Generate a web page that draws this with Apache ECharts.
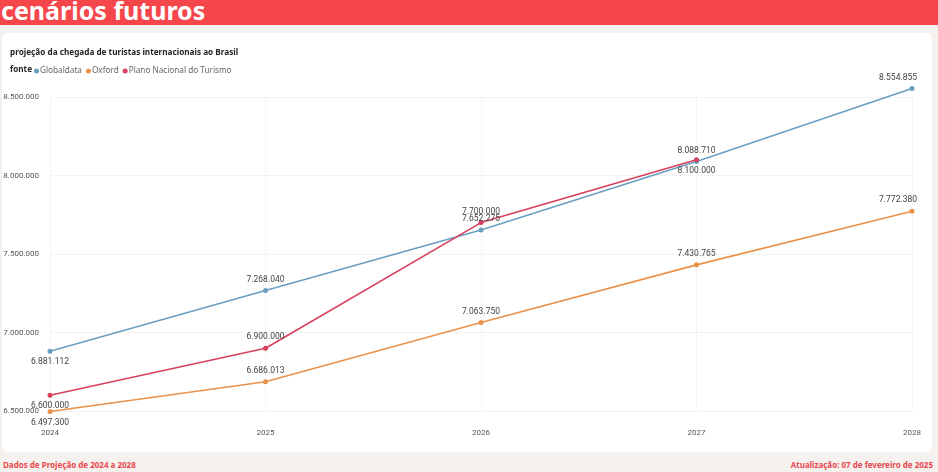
<!DOCTYPE html>
<html>
<head>
<meta charset="utf-8">
<script src="https://cdn.jsdelivr.net/npm/echarts@6/dist/echarts.min.js"></script>
<style>
  html, body { margin: 0; padding: 0; }
  body { width: 938px; height: 472px; background: #f5f1ee; position: relative; overflow: hidden; font-family: "Noto Sans", sans-serif; }
  #header { position: absolute; left: 0; top: 0; width: 938px; height: 25px; background: #f5474b; }
  #header span { position: absolute; left: 1px; top: -7px; color: #fff; font-weight: 700; font-size: 25px; }
  #card { position: absolute; left: 2px; top: 33px; width: 930px; height: 419px; background: #fff; border-radius: 6px; }
  .foot { position: absolute; top: 459px; font-size: 8px; font-weight: 700; color: #e8484f; }
  #chart { position: absolute; left: 0; top: 0; width: 938px; height: 472px; }
</style>
</head>
<body>
<div id="header"><span>cenários futuros</span></div>
<div id="card"></div>
<div class="foot" style="left:3px">Dados de Projeção de 2024 a 2028</div>
<div class="foot" style="right:5px">Atualização: 07 de fevereiro de 2025</div>
<div id="chart"></div>
<script>
  var years = ['2024', '2025', '2026', '2027', '2028'];
  var globaldata = [6881112, 7268040, 7652275, 8088710, 8554855];
  var oxford = [6497300, 6686013, 7063750, 7430765, 7772380];
  var plano = [6600000, 6900000, 7700000, 8100000, null];
  var yTicks = [6500000, 7000000, 7500000, 8000000, 8500000];

  function fmt(v) {
    return String(Math.round(v)).replace(/\B(?=(\d{3})+(?!\d))/g, '.');
  }

  // which labels go under the point (index list)
  function pts(values, below) {
    return values.map(function (v, i) {
      var d = { value: v };
      if (below.indexOf(i) >= 0) {
        d.label = { position: 'bottom', distance: 4 };
      }
      if (i === values.length - 1 && v != null) {
        d.label = { position: 'top', align: 'right', offset: [5, 0] };
      }
      return d;
    });
  }

  function line(name, color, values, below) {
    return {
      name: name,
      type: 'line',
      data: pts(values, below),
      clip: false,
      symbol: 'circle',
      symbolSize: 5,
      lineStyle: { width: 1.6, color: color },
      itemStyle: { color: color },
      label: {
        show: true,
        position: 'top',
        distance: 4,
        fontSize: 8.5,
        color: '#444',
        fontFamily: 'Roboto',
        formatter: function (p) { return fmt(p.value); }
      },
      emphasis: { disabled: true }
    };
  }

  var chart = echarts.init(document.getElementById('chart'));
  chart.setOption({
    animation: false,
    textStyle: { fontFamily: 'Noto Sans' },
    title: [{
      text: 'projeção da chegada de turistas internacionais ao Brasil',
      left: 5, top: 44,
      textStyle: { fontSize: 8.2, fontWeight: 'bold', color: '#252423' }
    }, {
      text: 'fonte',
      left: 5, top: 61,
      textStyle: { fontSize: 8.2, fontWeight: 'bold', color: '#252423' }
    }],
    legend: {
      left: 29, top: 62,
      icon: 'circle',
      itemWidth: 5, itemHeight: 5, itemGap: 4,
      textStyle: { fontSize: 8.2, color: '#666', padding: [0, 0, 0, -4] },
      data: ['Globaldata', 'Oxford', 'Plano Nacional do Turismo']
    },
    grid: { left: 50, right: 26, top: 97, bottom: 61 },
    xAxis: {
      type: 'category',
      data: years,
      boundaryGap: false,
      axisLine: { show: false },
      axisTick: { show: false },
      axisLabel: { fontSize: 8, color: '#555', margin: 18, fontFamily: 'Roboto', showMinLabel: true, showMaxLabel: true },
      splitLine: { show: true, lineStyle: { color: '#ececec', type: 'dotted' } }
    },
    yAxis: {
      type: 'value',
      min: yTicks[0],
      max: yTicks[yTicks.length - 1],
      interval: 500000,
      axisLine: { show: false },
      axisTick: { show: false },
      axisLabel: { fontSize: 8, color: '#555', margin: 11, fontFamily: 'Roboto', formatter: fmt },
      splitLine: { lineStyle: { color: '#e6e6e6', type: 'dotted' } }
    },
    series: [
      line('Globaldata', '#6a9fc0', globaldata, [0]),
      line('Oxford', '#ea914a', oxford, [0]),
      line('Plano Nacional do Turismo', '#d6405e', plano, [0, 3])
    ]
  });
</script>
</body>
</html>
